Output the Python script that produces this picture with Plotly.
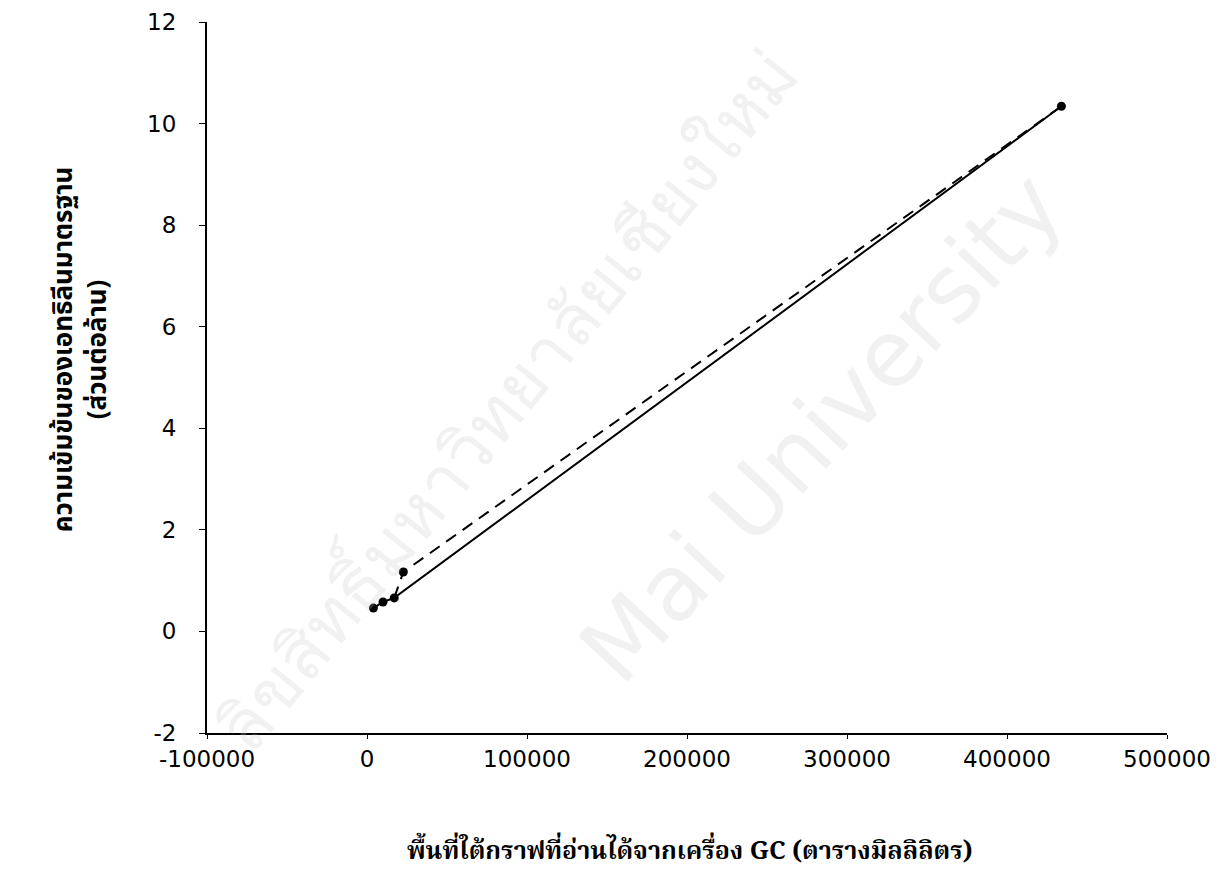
import plotly.graph_objects as go

# data
area_x = [4000, 10000, 17000, 22700, 434000]
conc_y = [0.46, 0.58, 0.66, 1.17, 10.34]
solid_idx = [0, 1, 2, 4]
dashed_idx = [2, 3, 4]

x_ticks = [-100000, 0, 100000, 200000, 300000, 400000, 500000]
y_ticks = [-2, 0, 2, 4, 6, 8, 10, 12]

x_title = "พื้นที่ใต้กราฟที่อ่านได้จากเครื่อง GC (ตารางมิลลิลิตร)"
y_title = "ความเข้มข้นของเอทธิลีนมาตรฐาน<br>(ส่วนต่อล้าน)"
wm_en = "Mai University"
wm_th = "ลิขสิทธิ์มหาวิทยาลัยเชียงใหม่"

fig = go.Figure()
fig.add_trace(go.Scatter(
    x=[area_x[i] for i in solid_idx], y=[conc_y[i] for i in solid_idx],
    mode="lines", line=dict(color="black", width=2), showlegend=False))
fig.add_trace(go.Scatter(
    x=[area_x[i] for i in dashed_idx], y=[conc_y[i] for i in dashed_idx],
    mode="lines", line=dict(color="black", width=2, dash="12px,8px"), showlegend=False))
fig.add_trace(go.Scatter(
    x=area_x, y=conc_y, mode="markers",
    marker=dict(color="black", size=9), showlegend=False))

wm = dict(showarrow=False, xref="paper", yref="paper", xanchor="center", yanchor="middle")
fig.add_annotation(text=wm_en, x=0.64, y=0.43, textangle=-47,
                   font=dict(family="DejaVu Sans", size=92, color="rgba(200,200,200,0.25)"), **wm)
fig.add_annotation(text=wm_th, x=0.31, y=0.47, textangle=-51,
                   font=dict(family="DejaVu Sans", size=70, color="rgba(200,200,200,0.25)"), **wm)

# axis titles as annotations for exact placement
fig.add_annotation(text=x_title, x=0.503, y=-0.168, textangle=0,
                   font=dict(family="Noto Serif Thai, serif", size=25, color="black", weight="bold"), **wm)
fig.add_annotation(text=y_title, x=-0.131, y=0.54, textangle=-90,
                   font=dict(family="Noto Sans Thai, sans-serif", size=26, color="black", weight="bold"), **wm)

fig.update_layout(
    width=1220, height=873,
    margin=dict(l=199, r=61, t=14, b=148),
    plot_bgcolor="white", paper_bgcolor="white",
    font=dict(family="DejaVu Sans", color="black"),
    xaxis=dict(range=[-100000, 500000], tickvals=x_ticks, ticktext=[str(v) for v in x_ticks],
               showgrid=False, zeroline=False, showline=True, linecolor="black", linewidth=2,
               ticks="outside", ticklen=4, tickcolor="black", tickfont=dict(size=23),
               ticklabelstandoff=0, automargin=False),
    yaxis=dict(range=[-2, 12], tickvals=y_ticks, ticktext=[str(v) for v in y_ticks],
               showgrid=False, zeroline=False,
               showline=True, linecolor="black", linewidth=2,
               ticks="outside", ticklen=6, tickcolor="black", tickfont=dict(size=23),
               ticklabelstandoff=18, automargin=False),
)

fig.write_html("out.html")
